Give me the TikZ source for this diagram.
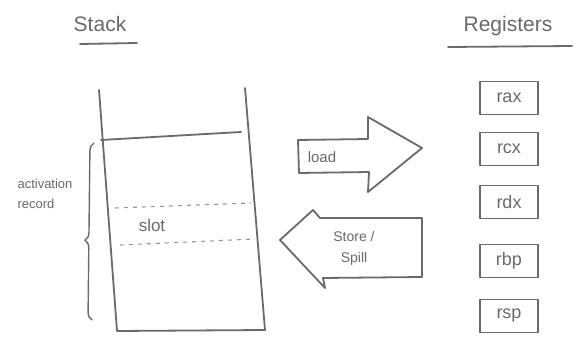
\documentclass[tikz,border=0pt]{standalone}
\usepackage{fontspec}
\setmainfont{Liberation Sans}
\usetikzlibrary{decorations.pathreplacing}
\definecolor{pencil}{HTML}{6A6A6A}
\tikzset{
  pen/.style={draw=pencil, line width=1.8pt, line join=round, line cap=round},
  thinpen/.style={draw=pencil!70, line width=1.1pt, dash pattern=on 4pt off 5pt},
  lbl/.style={text=pencil, font=\fontsize{15}{16}\selectfont, inner sep=1pt},
  title/.style={text=pencil, font=\fontsize{21}{22}\selectfont, inner sep=1pt},
  regbox/.style={pen, minimum width=58pt, minimum height=33pt, text=pencil, font=\fontsize{18}{19}\selectfont}
}
\begin{document}
\begin{tikzpicture}[x=1pt,y=-1pt]
\useasboundingbox[fill=white] (0,0) rectangle (574,340);
% titles
\node[title] (stacktitle) at (100,24) {Stack};
\draw[pen] (80,44) -- (137,43);
\node[title] (regtitle) at (508,26) {Registers};
\draw[pen] (448,47) -- (572,46);
% stack
\coordinate (sTL) at (99,90);
\coordinate (sBL) at (117,331);
\coordinate (sTR) at (245,88);
\coordinate (sBR) at (265,330);
\draw[pen] (sTL) -- (sBL) -- (sBR) -- (sTR);
\coordinate (arL) at (101,140);
\coordinate (arR) at (241,132);
\draw[pen] (arL) -- (arR);
% slot
\coordinate (d1a) at (115,208);
\coordinate (d1b) at (251,203);
\coordinate (d2a) at (120,245);
\coordinate (d2b) at (255,239);
\draw[thinpen] (d1a) -- (d1b);
\draw[thinpen] (d2a) -- (d2b);
\node[lbl, font=\fontsize{17}{18}\selectfont] (slot) at (152,225) {slot};
% brace
\coordinate (brB) at (92,320);
\coordinate (brT) at (94,143);
\draw[pen, line width=1.4pt, decorate, decoration={brace, amplitude=8pt, aspect=0.45}] (brB) -- (brT);
\node[lbl, align=left, font=\fontsize{13}{20}\selectfont] (actrec) at (45,194) {activation\\record};
% load arrow
\draw[pen] (298,140) -- (368,139) -- (368,117) -- (422,148) -- (368,192) -- (369,172) -- (299,173) -- cycle;
\node[lbl] (load) at (322,157) {load};
% store arrow
\draw[pen] (280,240) -- (313,210) -- (320,218) -- (422,218) -- (422,277) -- (323,278) -- (325,288) -- cycle;
\node[lbl, align=center, font=\fontsize{14}{21}\selectfont] (store) at (354,248) {Store /\\Spill};
% registers
\node[regbox] (rax) at (509,98) {rax};
\node[regbox] (rcx) at (509,149) {rcx};
\node[regbox] (rdx) at (509,202) {rdx};
\node[regbox] (rbp) at (509,261) {rbp};
\node[regbox] (rsp) at (509,316) {rsp};
\end{tikzpicture}
\end{document}
